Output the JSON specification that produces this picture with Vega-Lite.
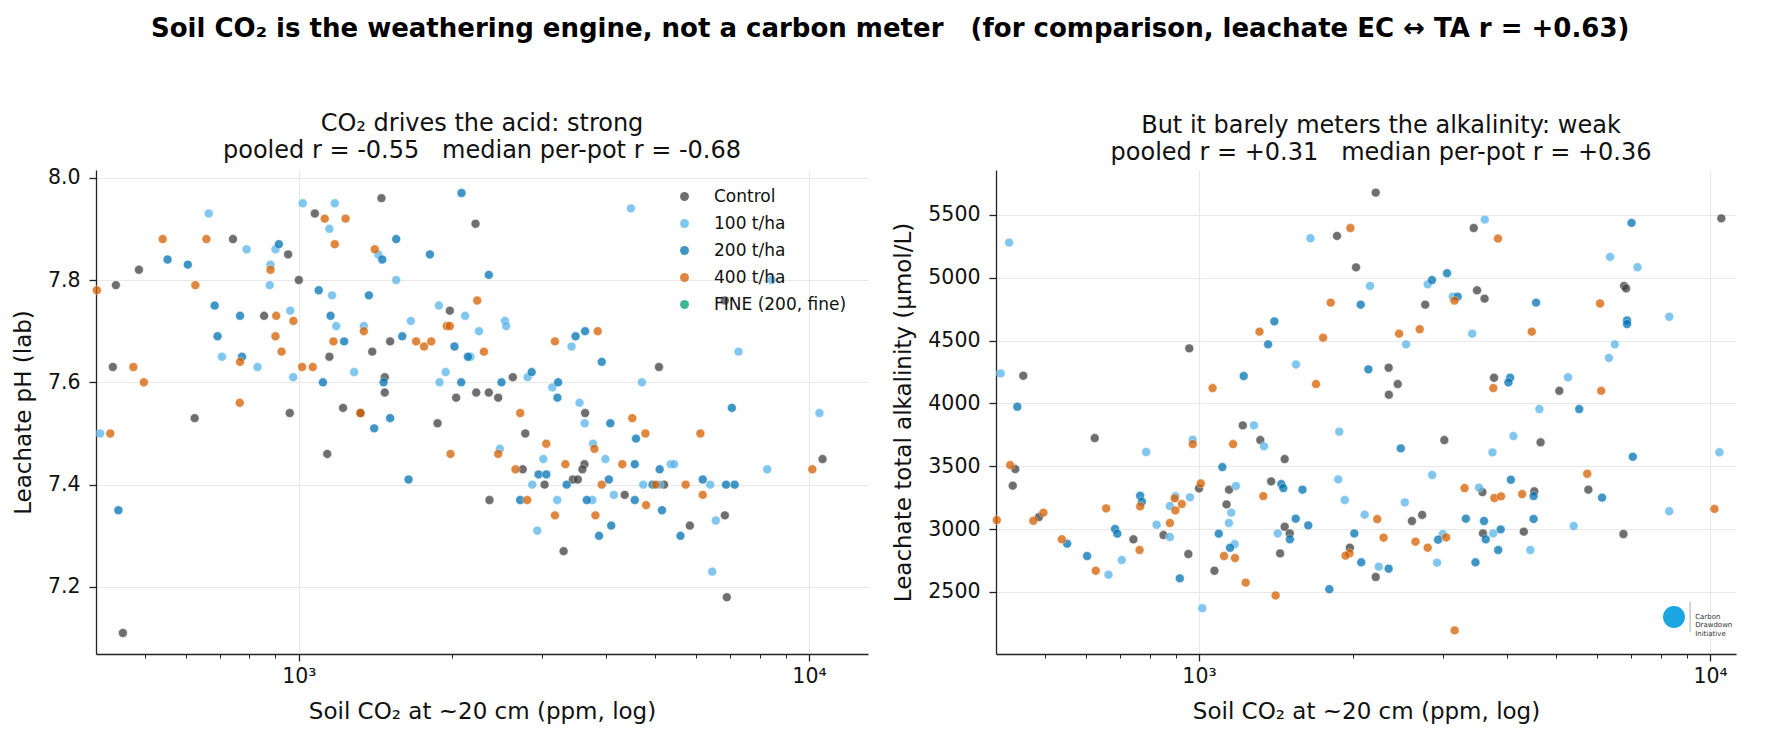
{
  "$schema": "https://vega.github.io/schema/vega-lite/v6.json",
  "background": "white",
  "padding": {"left": 12, "top": 15, "right": 5, "bottom": 5},
  "title": {
    "text": "Soil CO₂ is the weathering engine, not a carbon meter \u00a0 (for comparison, leachate EC ↔ TA r = +0.63)",
    "fontSize": 26, "fontWeight": "bold", "anchor": "middle", "offset": 70, "dx": 16, "color": "#000"
  },
  "config": {
    "font": "DejaVu Sans",
    "view": {"stroke": null},
    "title": {"fontSize": 24, "fontWeight": "normal", "lineHeight": 27, "offset": 5, "color": "#111"},
    "axis": {
      "labelFontSize": 20.5, "titleFontSize": 23, "titleFontWeight": "normal",
      "labelColor": "#111", "titleColor": "#111",
      "domainColor": "#222", "domainWidth": 1.3, "tickColor": "#222", "tickWidth": 1.3, "tickSize": 7,
      "gridColor": "#e8e8e8", "gridWidth": 1.1
    },
    "axisX": {"labelPadding": 5, "titlePadding": 14},
    "axisY": {"labelPadding": 9, "titlePadding": 12}
  },
  "datasets": {
    "ph": [
      {"g": "Control", "co2": 1075, "ph": 7.93}, {"g": "Control", "co2": 1452, "ph": 7.96}, {"g": "Control", "co2": 743, "ph": 7.88},
      {"g": "Control", "co2": 953, "ph": 7.85}, {"g": "Control", "co2": 486, "ph": 7.82}, {"g": "Control", "co2": 1000, "ph": 7.80},
      {"g": "Control", "co2": 438, "ph": 7.79}, {"g": "Control", "co2": 855, "ph": 7.73}, {"g": "Control", "co2": 1148, "ph": 7.65},
      {"g": "Control", "co2": 1393, "ph": 7.66}, {"g": "Control", "co2": 1510, "ph": 7.68}, {"g": "Control", "co2": 432, "ph": 7.63},
      {"g": "Control", "co2": 1474, "ph": 7.61}, {"g": "Control", "co2": 1474, "ph": 7.58}, {"g": "Control", "co2": 625, "ph": 7.53},
      {"g": "Control", "co2": 960, "ph": 7.54}, {"g": "Control", "co2": 1221, "ph": 7.55}, {"g": "Control", "co2": 1321, "ph": 7.54},
      {"g": "Control", "co2": 1137, "ph": 7.46}, {"g": "Control", "co2": 452, "ph": 7.11}, {"g": "Control", "co2": 2220, "ph": 7.91},
      {"g": "Control", "co2": 6840, "ph": 7.76}, {"g": "Control", "co2": 1977, "ph": 7.74}, {"g": "Control", "co2": 5080, "ph": 7.63},
      {"g": "Control", "co2": 2034, "ph": 7.57}, {"g": "Control", "co2": 2227, "ph": 7.58}, {"g": "Control", "co2": 2357, "ph": 7.58},
      {"g": "Control", "co2": 2459, "ph": 7.57}, {"g": "Control", "co2": 2627, "ph": 7.61}, {"g": "Control", "co2": 3640, "ph": 7.54},
      {"g": "Control", "co2": 1870, "ph": 7.52}, {"g": "Control", "co2": 2779, "ph": 7.50}, {"g": "Control", "co2": 2747, "ph": 7.43},
      {"g": "Control", "co2": 3629, "ph": 7.44}, {"g": "Control", "co2": 3596, "ph": 7.43}, {"g": "Control", "co2": 3032, "ph": 7.40},
      {"g": "Control", "co2": 3446, "ph": 7.41}, {"g": "Control", "co2": 3522, "ph": 7.41}, {"g": "Control", "co2": 5198, "ph": 7.40},
      {"g": "Control", "co2": 2364, "ph": 7.37}, {"g": "Control", "co2": 4352, "ph": 7.38}, {"g": "Control", "co2": 5841, "ph": 7.32},
      {"g": "Control", "co2": 6840, "ph": 7.34}, {"g": "Control", "co2": 3304, "ph": 7.27}, {"g": "Control", "co2": 6900, "ph": 7.18},
      {"g": "Control", "co2": 10630, "ph": 7.45},
      {"g": "100 t/ha", "co2": 666, "ph": 7.93}, {"g": "100 t/ha", "co2": 1018, "ph": 7.95}, {"g": "100 t/ha", "co2": 1176, "ph": 7.95},
      {"g": "100 t/ha", "co2": 1148, "ph": 7.90}, {"g": "100 t/ha", "co2": 790, "ph": 7.86}, {"g": "100 t/ha", "co2": 900, "ph": 7.86},
      {"g": "100 t/ha", "co2": 880, "ph": 7.83}, {"g": "100 t/ha", "co2": 1431, "ph": 7.85}, {"g": "100 t/ha", "co2": 877, "ph": 7.79},
      {"g": "100 t/ha", "co2": 1162, "ph": 7.77}, {"g": "100 t/ha", "co2": 1552, "ph": 7.80}, {"g": "100 t/ha", "co2": 962, "ph": 7.74},
      {"g": "100 t/ha", "co2": 1184, "ph": 7.71}, {"g": "100 t/ha", "co2": 1341, "ph": 7.71}, {"g": "100 t/ha", "co2": 1658, "ph": 7.72},
      {"g": "100 t/ha", "co2": 707, "ph": 7.65}, {"g": "100 t/ha", "co2": 830, "ph": 7.63}, {"g": "100 t/ha", "co2": 975, "ph": 7.61},
      {"g": "100 t/ha", "co2": 1284, "ph": 7.62}, {"g": "100 t/ha", "co2": 408, "ph": 7.50}, {"g": "100 t/ha", "co2": 4477, "ph": 7.94},
      {"g": "100 t/ha", "co2": 8450, "ph": 7.80}, {"g": "100 t/ha", "co2": 1882, "ph": 7.75}, {"g": "100 t/ha", "co2": 2119, "ph": 7.73},
      {"g": "100 t/ha", "co2": 2255, "ph": 7.70}, {"g": "100 t/ha", "co2": 2535, "ph": 7.72}, {"g": "100 t/ha", "co2": 2550, "ph": 7.71},
      {"g": "100 t/ha", "co2": 2170, "ph": 7.65}, {"g": "100 t/ha", "co2": 3424, "ph": 7.67}, {"g": "100 t/ha", "co2": 7274, "ph": 7.66},
      {"g": "100 t/ha", "co2": 1940, "ph": 7.62}, {"g": "100 t/ha", "co2": 1887, "ph": 7.60}, {"g": "100 t/ha", "co2": 2808, "ph": 7.61},
      {"g": "100 t/ha", "co2": 3139, "ph": 7.59}, {"g": "100 t/ha", "co2": 4704, "ph": 7.60}, {"g": "100 t/ha", "co2": 3549, "ph": 7.56},
      {"g": "100 t/ha", "co2": 3634, "ph": 7.52}, {"g": "100 t/ha", "co2": 2478, "ph": 7.47}, {"g": "100 t/ha", "co2": 3774, "ph": 7.48},
      {"g": "100 t/ha", "co2": 3015, "ph": 7.45}, {"g": "100 t/ha", "co2": 3989, "ph": 7.45}, {"g": "100 t/ha", "co2": 5357, "ph": 7.44},
      {"g": "100 t/ha", "co2": 5440, "ph": 7.44}, {"g": "100 t/ha", "co2": 8280, "ph": 7.43}, {"g": "100 t/ha", "co2": 2868, "ph": 7.40},
      {"g": "100 t/ha", "co2": 4733, "ph": 7.40}, {"g": "100 t/ha", "co2": 5096, "ph": 7.40}, {"g": "100 t/ha", "co2": 6402, "ph": 7.40},
      {"g": "100 t/ha", "co2": 3209, "ph": 7.37}, {"g": "100 t/ha", "co2": 3760, "ph": 7.37}, {"g": "100 t/ha", "co2": 4145, "ph": 7.38},
      {"g": "100 t/ha", "co2": 6566, "ph": 7.33}, {"g": "100 t/ha", "co2": 2933, "ph": 7.31}, {"g": "100 t/ha", "co2": 6460, "ph": 7.23},
      {"g": "100 t/ha", "co2": 10480, "ph": 7.54},
      {"g": "200 t/ha", "co2": 914, "ph": 7.87}, {"g": "200 t/ha", "co2": 553, "ph": 7.84}, {"g": "200 t/ha", "co2": 606, "ph": 7.83},
      {"g": "200 t/ha", "co2": 1457, "ph": 7.84}, {"g": "200 t/ha", "co2": 1552, "ph": 7.88}, {"g": "200 t/ha", "co2": 1094, "ph": 7.78},
      {"g": "200 t/ha", "co2": 1372, "ph": 7.77}, {"g": "200 t/ha", "co2": 684, "ph": 7.75}, {"g": "200 t/ha", "co2": 767, "ph": 7.73},
      {"g": "200 t/ha", "co2": 1154, "ph": 7.73}, {"g": "200 t/ha", "co2": 693, "ph": 7.69}, {"g": "200 t/ha", "co2": 1227, "ph": 7.68},
      {"g": "200 t/ha", "co2": 1595, "ph": 7.69}, {"g": "200 t/ha", "co2": 774, "ph": 7.65}, {"g": "200 t/ha", "co2": 1115, "ph": 7.60},
      {"g": "200 t/ha", "co2": 1466, "ph": 7.60}, {"g": "200 t/ha", "co2": 1510, "ph": 7.53}, {"g": "200 t/ha", "co2": 1405, "ph": 7.51},
      {"g": "200 t/ha", "co2": 1641, "ph": 7.41}, {"g": "200 t/ha", "co2": 443, "ph": 7.35}, {"g": "200 t/ha", "co2": 2084, "ph": 7.97},
      {"g": "200 t/ha", "co2": 1807, "ph": 7.85}, {"g": "200 t/ha", "co2": 2357, "ph": 7.81}, {"g": "200 t/ha", "co2": 2019, "ph": 7.67},
      {"g": "200 t/ha", "co2": 2145, "ph": 7.65}, {"g": "200 t/ha", "co2": 3487, "ph": 7.69}, {"g": "200 t/ha", "co2": 3640, "ph": 7.70},
      {"g": "200 t/ha", "co2": 3924, "ph": 7.64}, {"g": "200 t/ha", "co2": 2081, "ph": 7.60}, {"g": "200 t/ha", "co2": 2496, "ph": 7.60},
      {"g": "200 t/ha", "co2": 2860, "ph": 7.62}, {"g": "200 t/ha", "co2": 3223, "ph": 7.60}, {"g": "200 t/ha", "co2": 3213, "ph": 7.57},
      {"g": "200 t/ha", "co2": 4079, "ph": 7.52}, {"g": "200 t/ha", "co2": 4580, "ph": 7.49}, {"g": "200 t/ha", "co2": 7058, "ph": 7.55},
      {"g": "200 t/ha", "co2": 4555, "ph": 7.44}, {"g": "200 t/ha", "co2": 5096, "ph": 7.43}, {"g": "200 t/ha", "co2": 2950, "ph": 7.42},
      {"g": "200 t/ha", "co2": 3055, "ph": 7.42}, {"g": "200 t/ha", "co2": 3350, "ph": 7.40}, {"g": "200 t/ha", "co2": 4052, "ph": 7.41},
      {"g": "200 t/ha", "co2": 4934, "ph": 7.40}, {"g": "200 t/ha", "co2": 6190, "ph": 7.41}, {"g": "200 t/ha", "co2": 6878, "ph": 7.40},
      {"g": "200 t/ha", "co2": 7150, "ph": 7.40}, {"g": "200 t/ha", "co2": 2716, "ph": 7.37}, {"g": "200 t/ha", "co2": 3668, "ph": 7.37},
      {"g": "200 t/ha", "co2": 4555, "ph": 7.37}, {"g": "200 t/ha", "co2": 5150, "ph": 7.35}, {"g": "200 t/ha", "co2": 4096, "ph": 7.32},
      {"g": "200 t/ha", "co2": 3877, "ph": 7.30}, {"g": "200 t/ha", "co2": 5598, "ph": 7.30},
      {"g": "400 t/ha", "co2": 1124, "ph": 7.92}, {"g": "400 t/ha", "co2": 1235, "ph": 7.92}, {"g": "400 t/ha", "co2": 1176, "ph": 7.87},
      {"g": "400 t/ha", "co2": 541, "ph": 7.88}, {"g": "400 t/ha", "co2": 659, "ph": 7.88}, {"g": "400 t/ha", "co2": 880, "ph": 7.82},
      {"g": "400 t/ha", "co2": 1409, "ph": 7.86}, {"g": "400 t/ha", "co2": 402, "ph": 7.78}, {"g": "400 t/ha", "co2": 627, "ph": 7.79},
      {"g": "400 t/ha", "co2": 903, "ph": 7.73}, {"g": "400 t/ha", "co2": 976, "ph": 7.72}, {"g": "400 t/ha", "co2": 1341, "ph": 7.70},
      {"g": "400 t/ha", "co2": 900, "ph": 7.69}, {"g": "400 t/ha", "co2": 925, "ph": 7.66}, {"g": "400 t/ha", "co2": 1169, "ph": 7.68},
      {"g": "400 t/ha", "co2": 1698, "ph": 7.68}, {"g": "400 t/ha", "co2": 1760, "ph": 7.67}, {"g": "400 t/ha", "co2": 474, "ph": 7.63},
      {"g": "400 t/ha", "co2": 767, "ph": 7.64}, {"g": "400 t/ha", "co2": 1015, "ph": 7.63}, {"g": "400 t/ha", "co2": 1065, "ph": 7.63},
      {"g": "400 t/ha", "co2": 497, "ph": 7.60}, {"g": "400 t/ha", "co2": 766, "ph": 7.56}, {"g": "400 t/ha", "co2": 1321, "ph": 7.54},
      {"g": "400 t/ha", "co2": 427, "ph": 7.50}, {"g": "400 t/ha", "co2": 1818, "ph": 7.68}, {"g": "400 t/ha", "co2": 2237, "ph": 7.76},
      {"g": "400 t/ha", "co2": 1950, "ph": 7.71}, {"g": "400 t/ha", "co2": 1977, "ph": 7.71}, {"g": "400 t/ha", "co2": 2306, "ph": 7.66},
      {"g": "400 t/ha", "co2": 3177, "ph": 7.68}, {"g": "400 t/ha", "co2": 3854, "ph": 7.70}, {"g": "400 t/ha", "co2": 2716, "ph": 7.54},
      {"g": "400 t/ha", "co2": 4504, "ph": 7.53}, {"g": "400 t/ha", "co2": 4779, "ph": 7.50}, {"g": "400 t/ha", "co2": 6125, "ph": 7.50},
      {"g": "400 t/ha", "co2": 1983, "ph": 7.46}, {"g": "400 t/ha", "co2": 2459, "ph": 7.46}, {"g": "400 t/ha", "co2": 3055, "ph": 7.48},
      {"g": "400 t/ha", "co2": 3797, "ph": 7.47}, {"g": "400 t/ha", "co2": 2659, "ph": 7.43}, {"g": "400 t/ha", "co2": 3330, "ph": 7.44},
      {"g": "400 t/ha", "co2": 4306, "ph": 7.44}, {"g": "400 t/ha", "co2": 3924, "ph": 7.40}, {"g": "400 t/ha", "co2": 5008, "ph": 7.40},
      {"g": "400 t/ha", "co2": 5730, "ph": 7.40}, {"g": "400 t/ha", "co2": 6190, "ph": 7.38}, {"g": "400 t/ha", "co2": 2803, "ph": 7.37},
      {"g": "400 t/ha", "co2": 4794, "ph": 7.36}, {"g": "400 t/ha", "co2": 3177, "ph": 7.34}, {"g": "400 t/ha", "co2": 3814, "ph": 7.34},
      {"g": "400 t/ha", "co2": 10150, "ph": 7.43}
    ],
    "ta": [
      {"g": "Control", "co2": 957, "ta": 4438}, {"g": "Control", "co2": 2217, "ta": 5678}, {"g": "Control", "co2": 1862, "ta": 5333},
      {"g": "Control", "co2": 2029, "ta": 5083}, {"g": "Control", "co2": 3448, "ta": 5396}, {"g": "Control", "co2": 3500, "ta": 4900},
      {"g": "Control", "co2": 3620, "ta": 4834}, {"g": "Control", "co2": 2771, "ta": 4786}, {"g": "Control", "co2": 453, "ta": 4220},
      {"g": "Control", "co2": 625, "ta": 3724}, {"g": "Control", "co2": 437, "ta": 3477}, {"g": "Control", "co2": 432, "ta": 3345},
      {"g": "Control", "co2": 1000, "ta": 3323}, {"g": "Control", "co2": 486, "ta": 3095}, {"g": "Control", "co2": 744, "ta": 2918},
      {"g": "Control", "co2": 852, "ta": 2952}, {"g": "Control", "co2": 953, "ta": 2801}, {"g": "Control", "co2": 2350, "ta": 4284},
      {"g": "Control", "co2": 2448, "ta": 4154}, {"g": "Control", "co2": 2352, "ta": 4069}, {"g": "Control", "co2": 3778, "ta": 4204},
      {"g": "Control", "co2": 1218, "ta": 3825}, {"g": "Control", "co2": 1318, "ta": 3708}, {"g": "Control", "co2": 1471, "ta": 3557},
      {"g": "Control", "co2": 3020, "ta": 3708}, {"g": "Control", "co2": 4660, "ta": 3690}, {"g": "Control", "co2": 1145, "ta": 3313},
      {"g": "Control", "co2": 1132, "ta": 3196}, {"g": "Control", "co2": 1384, "ta": 3379}, {"g": "Control", "co2": 3586, "ta": 3294},
      {"g": "Control", "co2": 4530, "ta": 3300}, {"g": "Control", "co2": 1471, "ta": 3018}, {"g": "Control", "co2": 1505, "ta": 2965},
      {"g": "Control", "co2": 1441, "ta": 2806}, {"g": "Control", "co2": 1072, "ta": 2668}, {"g": "Control", "co2": 1973, "ta": 2851},
      {"g": "Control", "co2": 2217, "ta": 2618}, {"g": "Control", "co2": 2610, "ta": 3064}, {"g": "Control", "co2": 2733, "ta": 3112},
      {"g": "Control", "co2": 3594, "ta": 2965}, {"g": "Control", "co2": 4320, "ta": 2979}, {"g": "Control", "co2": 10520, "ta": 5473},
      {"g": "Control", "co2": 6790, "ta": 4935}, {"g": "Control", "co2": 6850, "ta": 4915}, {"g": "Control", "co2": 5779, "ta": 3313},
      {"g": "Control", "co2": 6769, "ta": 2960}, {"g": "Control", "co2": 5070, "ta": 4100},
      {"g": "100 t/ha", "co2": 425, "ta": 5280}, {"g": "100 t/ha", "co2": 1652, "ta": 5314}, {"g": "100 t/ha", "co2": 2161, "ta": 4935},
      {"g": "100 t/ha", "co2": 3623, "ta": 5463}, {"g": "100 t/ha", "co2": 2802, "ta": 4948}, {"g": "100 t/ha", "co2": 3137, "ta": 4850},
      {"g": "100 t/ha", "co2": 2542, "ta": 4470}, {"g": "100 t/ha", "co2": 3424, "ta": 4555}, {"g": "100 t/ha", "co2": 1548, "ta": 4310},
      {"g": "100 t/ha", "co2": 409, "ta": 4239}, {"g": "100 t/ha", "co2": 788, "ta": 3613}, {"g": "100 t/ha", "co2": 972, "ta": 3711},
      {"g": "100 t/ha", "co2": 899, "ta": 3262}, {"g": "100 t/ha", "co2": 877, "ta": 3183}, {"g": "100 t/ha", "co2": 960, "ta": 3252},
      {"g": "100 t/ha", "co2": 826, "ta": 3034}, {"g": "100 t/ha", "co2": 877, "ta": 2936}, {"g": "100 t/ha", "co2": 706, "ta": 2753},
      {"g": "100 t/ha", "co2": 665, "ta": 2636}, {"g": "100 t/ha", "co2": 1015, "ta": 2370}, {"g": "100 t/ha", "co2": 4635, "ta": 3955},
      {"g": "100 t/ha", "co2": 1281, "ta": 3825}, {"g": "100 t/ha", "co2": 1340, "ta": 3658}, {"g": "100 t/ha", "co2": 1881, "ta": 3775},
      {"g": "100 t/ha", "co2": 3752, "ta": 3610}, {"g": "100 t/ha", "co2": 4123, "ta": 3740}, {"g": "100 t/ha", "co2": 1181, "ta": 3343},
      {"g": "100 t/ha", "co2": 1156, "ta": 3130}, {"g": "100 t/ha", "co2": 1144, "ta": 3048}, {"g": "100 t/ha", "co2": 1872, "ta": 3395},
      {"g": "100 t/ha", "co2": 1928, "ta": 3231}, {"g": "100 t/ha", "co2": 2859, "ta": 3430}, {"g": "100 t/ha", "co2": 2527, "ta": 3212},
      {"g": "100 t/ha", "co2": 3531, "ta": 3329}, {"g": "100 t/ha", "co2": 1426, "ta": 2965}, {"g": "100 t/ha", "co2": 1174, "ta": 2880},
      {"g": "100 t/ha", "co2": 2109, "ta": 3114}, {"g": "100 t/ha", "co2": 2248, "ta": 2700}, {"g": "100 t/ha", "co2": 3000, "ta": 2960},
      {"g": "100 t/ha", "co2": 2923, "ta": 2732}, {"g": "100 t/ha", "co2": 3763, "ta": 2965}, {"g": "100 t/ha", "co2": 4450, "ta": 2833},
      {"g": "100 t/ha", "co2": 6372, "ta": 5166}, {"g": "100 t/ha", "co2": 7210, "ta": 5084}, {"g": "100 t/ha", "co2": 6510, "ta": 4470},
      {"g": "100 t/ha", "co2": 6340, "ta": 4362}, {"g": "100 t/ha", "co2": 8320, "ta": 4690}, {"g": "100 t/ha", "co2": 5273, "ta": 4208},
      {"g": "100 t/ha", "co2": 10430, "ta": 3611}, {"g": "100 t/ha", "co2": 8320, "ta": 3142}, {"g": "100 t/ha", "co2": 5410, "ta": 3024},
      {"g": "200 t/ha", "co2": 3057, "ta": 5036}, {"g": "200 t/ha", "co2": 2857, "ta": 4982}, {"g": "200 t/ha", "co2": 3207, "ta": 4850},
      {"g": "200 t/ha", "co2": 2072, "ta": 4786}, {"g": "200 t/ha", "co2": 1404, "ta": 4653}, {"g": "200 t/ha", "co2": 1365, "ta": 4470},
      {"g": "200 t/ha", "co2": 4566, "ta": 4802}, {"g": "200 t/ha", "co2": 441, "ta": 3973}, {"g": "200 t/ha", "co2": 767, "ta": 3265},
      {"g": "200 t/ha", "co2": 773, "ta": 3217}, {"g": "200 t/ha", "co2": 685, "ta": 3000}, {"g": "200 t/ha", "co2": 692, "ta": 2963},
      {"g": "200 t/ha", "co2": 552, "ta": 2883}, {"g": "200 t/ha", "co2": 604, "ta": 2785}, {"g": "200 t/ha", "co2": 917, "ta": 2607},
      {"g": "200 t/ha", "co2": 1223, "ta": 4218}, {"g": "200 t/ha", "co2": 2145, "ta": 4271}, {"g": "200 t/ha", "co2": 4062, "ta": 4204},
      {"g": "200 t/ha", "co2": 4031, "ta": 4167}, {"g": "200 t/ha", "co2": 2482, "ta": 3642}, {"g": "200 t/ha", "co2": 1111, "ta": 3493},
      {"g": "200 t/ha", "co2": 1449, "ta": 3358}, {"g": "200 t/ha", "co2": 1462, "ta": 3326}, {"g": "200 t/ha", "co2": 1594, "ta": 3313},
      {"g": "200 t/ha", "co2": 4076, "ta": 3392}, {"g": "200 t/ha", "co2": 4515, "ta": 3262}, {"g": "200 t/ha", "co2": 1546, "ta": 3082},
      {"g": "200 t/ha", "co2": 1636, "ta": 3029}, {"g": "200 t/ha", "co2": 1506, "ta": 2918}, {"g": "200 t/ha", "co2": 1093, "ta": 2963},
      {"g": "200 t/ha", "co2": 1150, "ta": 2851}, {"g": "200 t/ha", "co2": 2013, "ta": 2965}, {"g": "200 t/ha", "co2": 2077, "ta": 2735},
      {"g": "200 t/ha", "co2": 2350, "ta": 2684}, {"g": "200 t/ha", "co2": 2936, "ta": 2915}, {"g": "200 t/ha", "co2": 3328, "ta": 3082},
      {"g": "200 t/ha", "co2": 3611, "ta": 3064}, {"g": "200 t/ha", "co2": 3640, "ta": 2918}, {"g": "200 t/ha", "co2": 3893, "ta": 2997},
      {"g": "200 t/ha", "co2": 3850, "ta": 2833}, {"g": "200 t/ha", "co2": 3475, "ta": 2735}, {"g": "200 t/ha", "co2": 4515, "ta": 3080},
      {"g": "200 t/ha", "co2": 1799, "ta": 2521}, {"g": "200 t/ha", "co2": 7020, "ta": 5437}, {"g": "200 t/ha", "co2": 6880, "ta": 4660},
      {"g": "200 t/ha", "co2": 6880, "ta": 4632}, {"g": "200 t/ha", "co2": 5546, "ta": 3955}, {"g": "200 t/ha", "co2": 6147, "ta": 3250},
      {"g": "200 t/ha", "co2": 7061, "ta": 3575},
      {"g": "400 t/ha", "co2": 1978, "ta": 5396}, {"g": "400 t/ha", "co2": 3846, "ta": 5312}, {"g": "400 t/ha", "co2": 3162, "ta": 4818},
      {"g": "400 t/ha", "co2": 1810, "ta": 4802}, {"g": "400 t/ha", "co2": 1313, "ta": 4571}, {"g": "400 t/ha", "co2": 1749, "ta": 4523},
      {"g": "400 t/ha", "co2": 2463, "ta": 4555}, {"g": "400 t/ha", "co2": 2703, "ta": 4590}, {"g": "400 t/ha", "co2": 4478, "ta": 4571},
      {"g": "400 t/ha", "co2": 972, "ta": 3676}, {"g": "400 t/ha", "co2": 427, "ta": 3509}, {"g": "400 t/ha", "co2": 1008, "ta": 3363},
      {"g": "400 t/ha", "co2": 402, "ta": 3071}, {"g": "400 t/ha", "co2": 474, "ta": 3066}, {"g": "400 t/ha", "co2": 496, "ta": 3130},
      {"g": "400 t/ha", "co2": 767, "ta": 3180}, {"g": "400 t/ha", "co2": 658, "ta": 3164}, {"g": "400 t/ha", "co2": 896, "ta": 3244},
      {"g": "400 t/ha", "co2": 925, "ta": 3199}, {"g": "400 t/ha", "co2": 899, "ta": 3148}, {"g": "400 t/ha", "co2": 877, "ta": 3048},
      {"g": "400 t/ha", "co2": 539, "ta": 2918}, {"g": "400 t/ha", "co2": 765, "ta": 2833}, {"g": "400 t/ha", "co2": 628, "ta": 2668},
      {"g": "400 t/ha", "co2": 1063, "ta": 4122}, {"g": "400 t/ha", "co2": 1694, "ta": 4154}, {"g": "400 t/ha", "co2": 3766, "ta": 4122},
      {"g": "400 t/ha", "co2": 1166, "ta": 3676}, {"g": "400 t/ha", "co2": 1336, "ta": 3262}, {"g": "400 t/ha", "co2": 3308, "ta": 3326},
      {"g": "400 t/ha", "co2": 3784, "ta": 3247}, {"g": "400 t/ha", "co2": 3899, "ta": 3260}, {"g": "400 t/ha", "co2": 4289, "ta": 3278},
      {"g": "400 t/ha", "co2": 1119, "ta": 2785}, {"g": "400 t/ha", "co2": 1176, "ta": 2769}, {"g": "400 t/ha", "co2": 1234, "ta": 2573},
      {"g": "400 t/ha", "co2": 2232, "ta": 3079}, {"g": "400 t/ha", "co2": 1970, "ta": 2806}, {"g": "400 t/ha", "co2": 1935, "ta": 2788},
      {"g": "400 t/ha", "co2": 2297, "ta": 2931}, {"g": "400 t/ha", "co2": 2652, "ta": 2899}, {"g": "400 t/ha", "co2": 2802, "ta": 2851},
      {"g": "400 t/ha", "co2": 3045, "ta": 2933}, {"g": "400 t/ha", "co2": 1412, "ta": 2471}, {"g": "400 t/ha", "co2": 3164, "ta": 2193},
      {"g": "400 t/ha", "co2": 6123, "ta": 4100}, {"g": "400 t/ha", "co2": 6091, "ta": 4795}, {"g": "400 t/ha", "co2": 5750, "ta": 3440},
      {"g": "400 t/ha", "co2": 10200, "ta": 3160}
    ]
  },
  "spacing": 24,
  "resolve": {"scale": {"color": "independent"}, "legend": {"color": "independent"}},
  "hconcat": [
    {
      "width": 772,
      "height": 484,
      "title": {"text": ["CO₂ drives the acid: strong", "pooled r = -0.55 \u00a0 median per-pot r = -0.68"]},
      "layer": [
        {
          "data": {"name": "ph"},
          "mark": {"type": "circle", "size": 80, "opacity": 0.75, "stroke": "white", "strokeWidth": 0.5},
          "encoding": {
            "x": {
              "field": "co2", "type": "quantitative", "title": "Soil CO₂ at ~20 cm (ppm, log)",
              "scale": {"type": "log", "domain": [400.4, 13050], "nice": false},
              "axis": {"values": [1000, 10000], "labelExpr": "datum.value == 1000 ? '10³' : '10⁴'", "grid": true}
            },
            "y": {
              "field": "ph", "type": "quantitative", "title": "Leachate pH (lab)",
              "scale": {"domain": [7.069, 8.015], "nice": false, "zero": false},
              "axis": {"values": [7.2, 7.4, 7.6, 7.8, 8.0], "format": ".1f", "grid": true}
            },
            "color": {
              "field": "g", "type": "nominal",
              "scale": {
                "domain": ["Control", "100 t/ha", "200 t/ha", "400 t/ha", "FINE (200, fine)"],
                "range": ["#404040", "#56B4E9", "#0072B2", "#D55E00", "#009E73"]
              },
              "legend": {
                "orient": "none", "legendX": 580, "legendY": 18, "title": null,
                "labelFontSize": 17, "labelColor": "#111", "symbolType": "circle", "symbolSize": 80,
                "symbolOpacity": 0.75, "symbolStrokeWidth": 0, "rowPadding": 9, "labelOffset": 21, "padding": 0
              }
            }
          }
        },
        {
          "data": {"values": [{}]},
          "mark": {"type": "rule", "opacity": 0},
          "encoding": {
            "x": {
              "datum": 1000, "type": "quantitative",
              "axis": {"values": [500, 600, 700, 800, 900, 2000, 3000, 4000, 5000, 6000, 7000, 8000, 9000],
                       "labels": false, "grid": false, "domain": false, "tickSize": 4, "tickWidth": 1, "orient": "bottom", "title": null}
            }
          }
        }
      ],
      "resolve": {"axis": {"x": "independent"}}
    },
    {
      "width": 740,
      "height": 484,
      "title": {"text": ["But it barely meters the alkalinity: weak", "pooled r = +0.31 \u00a0 median per-pot r = +0.36"], "dx": 15},
      "layer": [
        {
          "data": {"name": "ta"},
          "mark": {"type": "circle", "size": 80, "opacity": 0.75, "stroke": "white", "strokeWidth": 0.5},
          "encoding": {
            "x": {
              "field": "co2", "type": "quantitative", "title": "Soil CO₂ at ~20 cm (ppm, log)",
              "scale": {"type": "log", "domain": [400.6, 11240], "nice": false},
              "axis": {"values": [1000, 10000], "labelExpr": "datum.value == 1000 ? '10³' : '10⁴'", "grid": true}
            },
            "y": {
              "field": "ta", "type": "quantitative", "title": "Leachate total alkalinity (µmol/L)",
              "scale": {"domain": [2005, 5858], "nice": false, "zero": false},
              "axis": {"values": [2500, 3000, 3500, 4000, 4500, 5000, 5500], "format": "d", "grid": true}
            },
            "color": {
              "field": "g", "type": "nominal",
              "scale": {
                "domain": ["Control", "100 t/ha", "200 t/ha", "400 t/ha", "FINE (200, fine)"],
                "range": ["#404040", "#56B4E9", "#0072B2", "#D55E00", "#009E73"]
              },
              "legend": null
            }
          }
        },
        {
          "data": {"values": [{}]},
          "mark": {"type": "rule", "opacity": 0},
          "encoding": {
            "x": {
              "datum": 1000, "type": "quantitative",
              "axis": {"values": [500, 600, 700, 800, 900, 2000, 3000, 4000, 5000, 6000, 7000, 8000, 9000],
                       "labels": false, "grid": false, "domain": false, "tickSize": 4, "tickWidth": 1, "orient": "bottom", "title": null}
            }
          }
        },
        {
          "data": {"values": [{}]},
          "mark": {"type": "circle", "size": 480, "color": "#1ba6e2", "opacity": 1},
          "encoding": {
            "x": {"datum": 8500, "type": "quantitative", "axis": null},
            "y": {"datum": 2300, "type": "quantitative", "title": "Leachate total alkalinity (µmol/L)"}
          }
        },
        {
          "data": {"values": [{}]},
          "mark": {"type": "rule", "color": "#999", "strokeWidth": 0.8},
          "encoding": {
            "x": {"datum": 9140, "type": "quantitative", "axis": null},
            "y": {"datum": 2420, "type": "quantitative", "title": "Leachate total alkalinity (µmol/L)"},
            "y2": {"datum": 2180}
          }
        },
        {
          "data": {"values": [{}]},
          "mark": {"type": "text", "text": ["Carbon", "Drawdown", "Initiative"], "fontSize": 7, "lineHeight": 8.5, "align": "left", "baseline": "middle", "color": "#333"},
          "encoding": {
            "x": {"datum": 9350, "type": "quantitative", "axis": null},
            "y": {"datum": 2300, "type": "quantitative", "title": "Leachate total alkalinity (µmol/L)"}
          }
        }
      ],
      "resolve": {"axis": {"x": "independent"}}
    }
  ]
}
